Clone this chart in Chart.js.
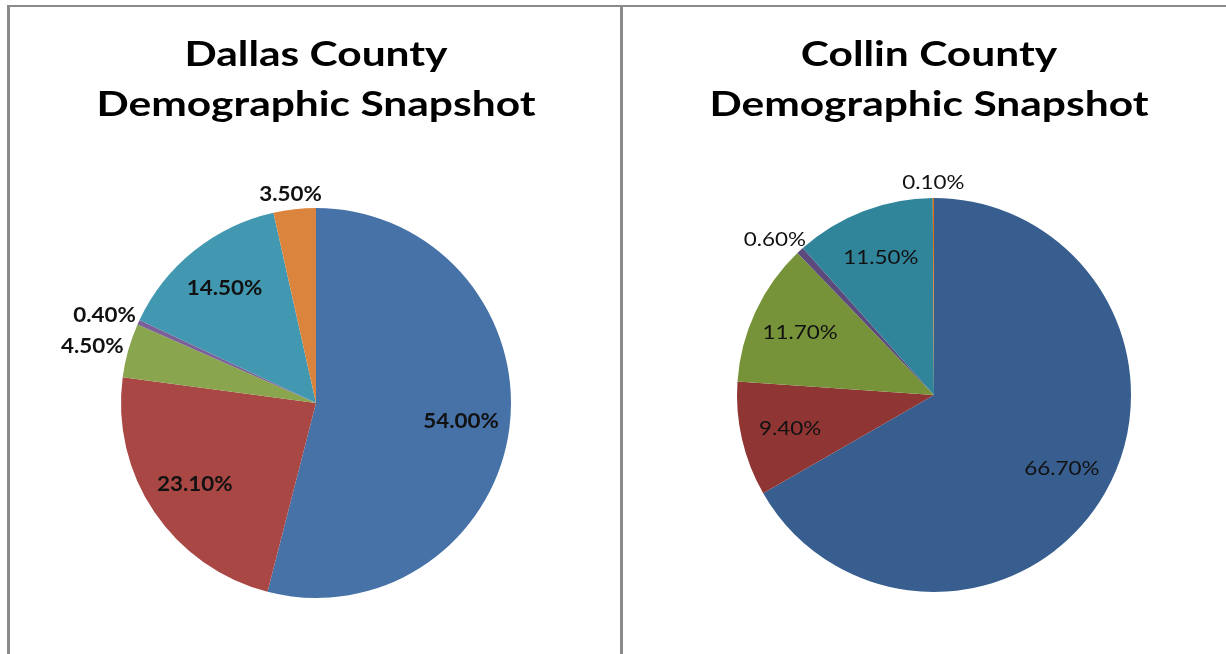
<!DOCTYPE html>
<html>
<head>
<meta charset="utf-8">
<script src="https://cdn.jsdelivr.net/npm/chart.js@4.4.0/dist/chart.umd.min.js"></script>
<style>
  html, body { margin: 0; padding: 0; background: #fff; }
  body { width: 1226px; height: 654px; position: relative; overflow: hidden; }
  .rule { position: absolute; background: #8a8a8a; }
  canvas { position: absolute; top: 0; }
  #dallasChart { left: 0; }
  #collinChart { left: 622px; }
</style>
</head>
<body>
<canvas id="dallasChart" width="622" height="654"></canvas>
<canvas id="collinChart" width="604" height="654"></canvas>
<div class="rule" style="left:7px; top:5px; width:1219px; height:2px;"></div>
<div class="rule" style="left:7px; top:5px; width:3px; height:649px;"></div>
<div class="rule" style="left:620px; top:5px; width:3px; height:649px;"></div>
<script>
// Share of population by group, clockwise from 12 o'clock
const groups = ["White", "Hispanic", "Black", "American Indian", "Asian", "Other"];
const dallasValues = [54.0, 23.1, 4.5, 0.4, 14.5, 3.5];
const collinValues = [66.7, 9.4, 11.7, 0.6, 11.5, 0.1];

const dallasTitle = ["Dallas County", "Demographic Snapshot"];
const collinTitle = ["Collin County", "Demographic Snapshot"];

const dallasColors = ["#4672a8", "#a84744", "#89a54e", "#7b5f98", "#4298b0", "#db843d"];
const collinColors = ["#375e8f", "#8f3634", "#779339", "#5d4a7c", "#31859b", "#e46c0a"];

const FONT = "Lato, 'Open Sans', sans-serif";

// draws text squeezed/stretched horizontally around its centre
function wideText(ctx, text, x, y, sx) {
    ctx.save();
    ctx.translate(x, y);
    ctx.scale(sx, 1);
    ctx.fillText(text, 0, 0);
    ctx.restore();
}

// Two-line heading above the pie, wider than the plain font
const wideTitle = {
    id: "wideTitle",
    afterDraw(chart, args, opts) {
        const ctx = chart.ctx;
        ctx.save();
        ctx.font = opts.font;
        ctx.fillStyle = "#000";
        ctx.textAlign = "center";
        ctx.textBaseline = "alphabetic";
        opts.text.forEach((line, i) => {
            wideText(ctx, line, opts.x, opts.baseline + i * opts.lineHeight, opts.stretch);
        });
        ctx.restore();
    }
};

// Percent labels: big slices get the label inside, thin ones outside the rim
const pieLabels = {
    id: "pieLabels",
    afterDatasetsDraw(chart, args, opts) {
        const ctx = chart.ctx;
        const meta = chart.getDatasetMeta(0);
        const values = chart.data.datasets[0].data;
        ctx.save();
        ctx.font = opts.font;
        ctx.fillStyle = opts.color;
        ctx.textAlign = "center";
        ctx.textBaseline = "middle";
        meta.data.forEach((arc, i) => {
            const p = arc.getProps(["x", "y", "startAngle", "endAngle", "outerRadius"], true);
            const mid = (p.startAngle + p.endAngle) / 2;
            const text = values[i].toFixed(2) + "%";
            let lx, ly;
            if (values[i] >= 5) {
                const r = p.outerRadius * opts.inside;
                lx = p.x + Math.cos(mid) * r;
                ly = p.y + Math.sin(mid) * r;
            } else {
                const r = p.outerRadius + opts.gap;
                const halfW = ctx.measureText(text).width * opts.stretch / 2;
                lx = p.x + Math.cos(mid) * (r + halfW);
                ly = p.y + Math.sin(mid) * (r + opts.halfH);
            }
            wideText(ctx, text, lx, ly, opts.stretch);
        });
        ctx.restore();
    }
};

function createPie(canvasId, title, values, colors, labelFont, layout, titleX) {
    const ctx = document.getElementById(canvasId).getContext("2d");
    return new Chart(ctx, {
        type: "pie",
        data: {
            labels: groups,
            datasets: [{
                data: values,
                backgroundColor: colors,
                borderWidth: 0,
                hoverOffset: 0
            }]
        },
        options: {
            responsive: false,
            animation: false,
            layout: { padding: layout },
            plugins: {
                legend: { display: false },
                tooltip: { enabled: false },
                title: { display: false },
                wideTitle: {
                    text: title,
                    font: "bold 34px " + FONT,
                    x: titleX,
                    baseline: 66,
                    lineHeight: 50,
                    stretch: 1.25
                },
                pieLabels: {
                    font: labelFont,
                    color: "#111",
                    inside: 0.75,
                    gap: 6,
                    halfH: 9,
                    stretch: 1.12
                }
            }
        },
        plugins: [pieLabels, wideTitle]
    });
}

createPie("dallasChart", dallasTitle, dallasValues, dallasColors, "bold 20px " + FONT,
    { left: 10, right: 0, top: 208, bottom: 56 }, 316);

createPie("collinChart", collinTitle, collinValues, collinColors, "20px " + FONT,
    { left: 20, right: 0, top: 198, bottom: 62 }, 307);
</script>
</body>
</html>
